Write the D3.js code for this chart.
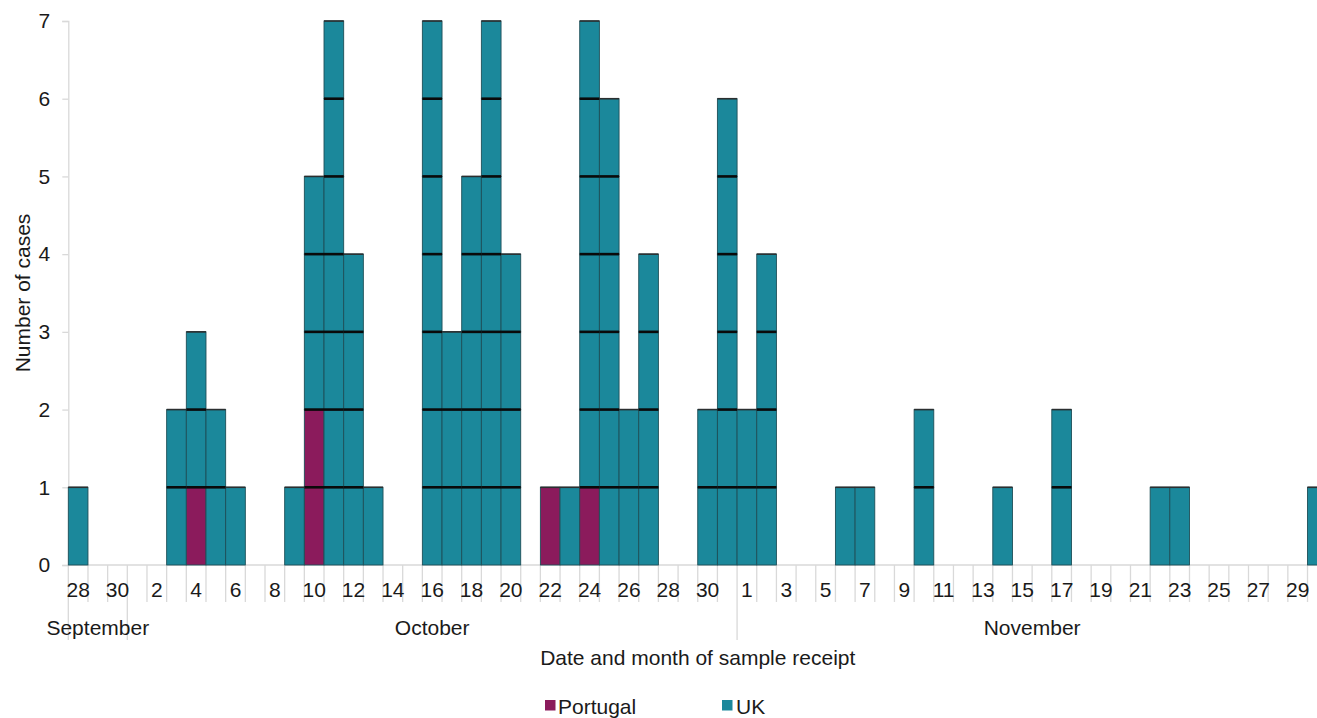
<!DOCTYPE html>
<html>
<head>
<meta charset="utf-8">
<script src="https://cdn.jsdelivr.net/npm/d3@7"></script>
<style>
  html, body { margin: 0; padding: 0; background: #fff; overflow: hidden; }
  svg { display: block; font-family: "Liberation Sans", Arial, sans-serif; }
</style>
</head>
<body>
<svg id="chart" width="1317" height="718"></svg>
<script>
// ---- Data ----
const months = ["September", "October", "November"];
const monthDays = [
  [28, 29, 30],
  [1,2,3,4,5,6,7,8,9,10,11,12,13,14,15,16,17,18,19,20,21,22,23,24,25,26,27,28,29,30,31],
  [1,2,3,4,5,6,7,8,9,10,11,12,13,14,15,16,17,18,19,20,21,22,23,24,25,26,27,28,29,30]
];
// cases per day, by month
const ukSeptember = [1, 0, 0];
const ukOctober = [0,0,2,2,2,1,0,0,1,3,7,4,1,0,0,7,3,5,7,4,0,0,1,6,6,2,4,0,0,2,6];
const ukNovember = [2,4,0,0,0,1,1,0,0,2,0,0,0,1,0,0,2,0,0,0,0,1,1,0,0,0,0,0,0,1];
const portugalSeptember = [0, 0, 0];
const portugalOctober = [0,0,0,1,0,0,0,0,0,2,0,0,0,0,0,0,0,0,0,0,0,1,0,1,0,0,0,0,0,0,0];
const portugalNovember = [0,0,0,0,0,0,0,0,0,0,0,0,0,0,0,0,0,0,0,0,0,0,0,0,0,0,0,0,0,0];
const yTicks = [0, 1, 2, 3, 4, 5, 6, 7];
const seriesNames = ["Portugal", "UK"];
const seriesColors = ["#8b1b5c", "#1b889b"];

// ---- Build table ----
const ukAll = [].concat(ukSeptember, ukOctober, ukNovember);
const ptAll = [].concat(portugalSeptember, portugalOctober, portugalNovember);
const days = [];
monthDays.forEach((ds, mi) => ds.forEach(d => days.push({ key: mi + "-" + d, day: d, month: mi })));
days.forEach((d, i) => { d.pt = ptAll[i]; d.uk = ukAll[i]; d.total = d.pt + d.uk; d.idx = i; });

// ---- Layout ----
const svg = d3.select("#chart");
const left = 68.3, slotW = 19.67;
const x = d3.scaleBand().domain(days.map(d => d.key)).range([left, left + slotW * days.length]).padding(0);
const y = d3.scaleLinear().domain([0, 7]).range([565, 21]);
const color = d3.scaleOrdinal().domain(seriesNames).range(seriesColors);
const grid = "#d9d9d9";

// y axis
const yAxis = svg.append("g").attr("transform", `translate(${left},0)`)
  .call(d3.axisLeft(y).tickValues(yTicks).tickFormat(d3.format("d")).tickSize(6).tickPadding(12));
yAxis.select(".domain").attr("stroke", grid).attr("stroke-width", 1.3);
yAxis.selectAll(".tick line").attr("stroke", grid).attr("stroke-width", 1.3);
yAxis.selectAll(".tick text").attr("font-size", 21).attr("fill", "#1a1a1a")
  .attr("font-family", "Liberation Sans, Arial, sans-serif");

// x axis: baseline and day ticks
const xg = svg.append("g");
const [x0, x1] = x.range();
xg.append("line").attr("x1", x0).attr("x2", x1).attr("y1", y(0)).attr("y2", y(0))
  .attr("stroke", grid).attr("stroke-width", 1.3);
const boundaries = days.map(d => x(d.key)).concat([x1]);
const monthStarts = new Set(days.filter((d, i) => i === 0 || d.month !== days[i - 1].month).map(d => d.idx));
monthStarts.add(days.length);
xg.selectAll("line.tick").data(boundaries).join("line")
  .attr("class", "tick")
  .attr("x1", d => d).attr("x2", d => d)
  .attr("y1", y(0)).attr("y2", (d, i) => monthStarts.has(i) ? 640 : 602)
  .attr("stroke", grid).attr("stroke-width", 1.3);
xg.selectAll("text.day").data(days.filter(d => d.idx % 2 === 0)).join("text")
  .attr("class", "day")
  .attr("x", d => x(d.key) + x.bandwidth() / 2)
  .attr("y", 597)
  .attr("text-anchor", "middle")
  .attr("font-size", 21).attr("fill", "#1a1a1a")
  .text(d => d.day);
// month labels
const monthSpans = months.map((m, mi) => {
  const ds = days.filter(d => d.month === mi);
  return { name: m, a: x(ds[0].key), b: x(ds[ds.length - 1].key) + x.bandwidth() };
});
xg.selectAll("text.month").data(monthSpans).join("text")
  .attr("class", "month")
  .attr("x", d => (d.a + d.b) / 2).attr("y", 635)
  .attr("text-anchor", "middle").attr("font-size", 21).attr("fill", "#1a1a1a")
  .text(d => d.name);

// axis titles
svg.append("text").attr("x", (x0 + x1) / 2).attr("y", 665).attr("text-anchor", "middle")
  .attr("font-size", 21).attr("fill", "#1a1a1a").text("Date and month of sample receipt");
svg.append("text").attr("transform", `translate(29.5,${(y(0) + y(7)) / 2}) rotate(-90)`)
  .attr("text-anchor", "middle").attr("font-size", 21).attr("fill", "#1a1a1a").text("Number of cases");

// ---- Bars: one block per case ----
const blocks = [];
days.forEach(d => {
  for (let i = 0; i < d.total; i++) {
    blocks.push({ key: d.key, level: i, series: i < d.pt ? "Portugal" : "UK" });
  }
});
const barG = svg.append("g");
barG.selectAll("rect").data(blocks).join("rect")
  .attr("x", d => x(d.key))
  .attr("y", d => y(d.level + 1))
  .attr("width", x.bandwidth())
  .attr("height", d => y(d.level) - y(d.level + 1))
  .attr("fill", d => color(d.series))
  .attr("stroke", "#1e4f58").attr("stroke-width", 0.9);
// internal separators
const seps = [];
days.forEach(d => { for (let k = 1; k < d.total; k++) seps.push({ key: d.key, v: k }); });
barG.selectAll("line.sep").data(seps).join("line")
  .attr("class", "sep")
  .attr("x1", d => x(d.key)).attr("x2", d => x(d.key) + x.bandwidth())
  .attr("y1", d => y(d.v)).attr("y2", d => y(d.v))
  .attr("stroke", "#0a0a0a").attr("stroke-width", 2.6);
// top edges
barG.selectAll("line.top").data(days.filter(d => d.total > 0)).join("line")
  .attr("class", "top")
  .attr("x1", d => x(d.key)).attr("x2", d => x(d.key) + x.bandwidth())
  .attr("y1", d => y(d.total)).attr("y2", d => y(d.total))
  .attr("stroke", "#2b2f30").attr("stroke-width", 1.6);

// ---- Legend ----
const legendPos = [{ sx: 545, tx: 558 }, { sx: 722, tx: 736 }];
const lg = svg.append("g");
seriesNames.forEach((s, i) => {
  lg.append("rect").attr("x", legendPos[i].sx).attr("y", 700).attr("width", 10.5).attr("height", 10.5)
    .attr("fill", color(s));
  lg.append("text").attr("x", legendPos[i].tx).attr("y", 713.5).attr("font-size", 21)
    .attr("fill", "#1a1a1a").text(s);
});
</script>
</body>
</html>
